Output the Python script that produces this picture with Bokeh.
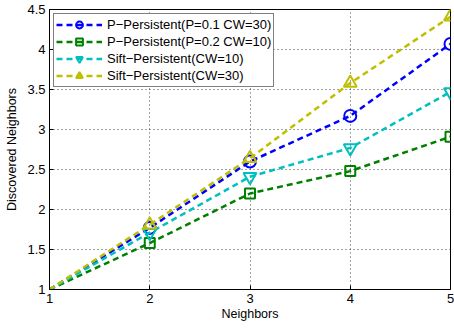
from bokeh.plotting import figure
from bokeh.models import FixedTicker, Range1d, Legend, LegendItem
from bokeh.embed import file_html
from bokeh.resources import INLINE

neighbors = [1, 2, 3, 4, 5]
p01_cw30 = [1.0, 1.77, 2.60, 3.17, 4.07]
p02_cw10 = [1.0, 1.58, 2.20, 2.48, 2.91]
sift_cw10 = [1.0, 1.71, 2.41, 2.77, 3.47]
sift_cw30 = [1.0, 1.81, 2.64, 3.58, 4.41]

series_names = ["P\u2212Persistent(P=0.1 CW=30)", "P\u2212Persistent(P=0.2 CW=10)",
                "Sift\u2212Persistent(CW=10)", "Sift\u2212Persistent(CW=30)"]
colors = ["#0000FF", "#008000", "#00BFBF", "#BFBF00"]
markers = ["circle", "square", "inverted_triangle", "triangle"]
marker_sizes = [12, 10, 13, 13]
values = [p01_cw30, p02_cw10, sift_cw10, sift_cw30]

x_ticks = [1, 2, 3, 4, 5]
y_ticks = [1, 1.5, 2, 2.5, 3, 3.5, 4, 4.5]
y_tick_labels = ["1", "1.5", "2", "2.5", "3", "3.5", "4", "4.5"]

FONT = "Liberation Sans"

p = figure(width=454, height=328, output_backend="svg", toolbar_location=None,
           x_range=Range1d(1, 5), y_range=Range1d(1, 4.5),
           min_border_left=49, min_border_right=4, min_border_top=9, min_border_bottom=39)
p.outline_line_color = "black"
p.outline_line_width = 1
p.background_fill_color = "white"
p.border_fill_color = "white"

p.xaxis.ticker = FixedTicker(ticks=x_ticks)
p.yaxis.ticker = FixedTicker(ticks=y_ticks)
p.yaxis.major_label_overrides = {t: l for t, l in zip(y_ticks, y_tick_labels)}
p.xaxis.major_label_overrides = {t: str(t) for t in x_ticks}
for ax in (p.xaxis, p.yaxis):
    ax.major_tick_in = 4
    ax.major_tick_out = 0
    ax.minor_tick_line_color = None
    ax.axis_line_color = "black"
    ax.major_tick_line_color = "black"
    ax.major_label_text_font = FONT
    ax.major_label_text_font_size = "13px"
    ax.major_label_text_color = "black"
    ax.axis_label_text_font = FONT
    ax.axis_label_text_font_size = "12.5px"
    ax.axis_label_text_font_style = "normal"
    ax.axis_label_text_color = "black"
p.xaxis.axis_label = "Neighbors"
p.yaxis.axis_label = "Discovered Neighbors"
p.xaxis.axis_label_standoff = 1
p.yaxis.axis_label_standoff = 5
p.xaxis.major_label_standoff = 4
p.yaxis.major_label_standoff = 4

p.grid.grid_line_color = "#444444"
p.grid.grid_line_dash = "1 3"
p.grid.grid_line_width = 1

items = []
for name, col, mk, ms, vals in zip(series_names, colors, markers, marker_sizes, values):
    r1 = p.line(neighbors, vals, line_color=col, line_width=2.5, line_dash="6 4")
    r2 = p.scatter(neighbors[1:], vals[1:], marker=mk, size=ms, line_color=col, line_width=2,
                   fill_color=None)
    items.append(LegendItem(label=name, renderers=[r1, r2]))

legend = Legend(items=items, location="top_left")
legend.label_text_font = FONT
legend.label_text_font_size = "13px"
legend.label_text_color = "black"
legend.border_line_color = "black"
legend.border_line_width = 1.5
legend.background_fill_alpha = 1
legend.margin = 4
legend.padding = 2
legend.spacing = 0
legend.glyph_height = 17
legend.label_height = 17
legend.glyph_width = 46
legend.label_standoff = 5
p.add_layout(legend)

open("out.html", "w").write(file_html(p, INLINE))
